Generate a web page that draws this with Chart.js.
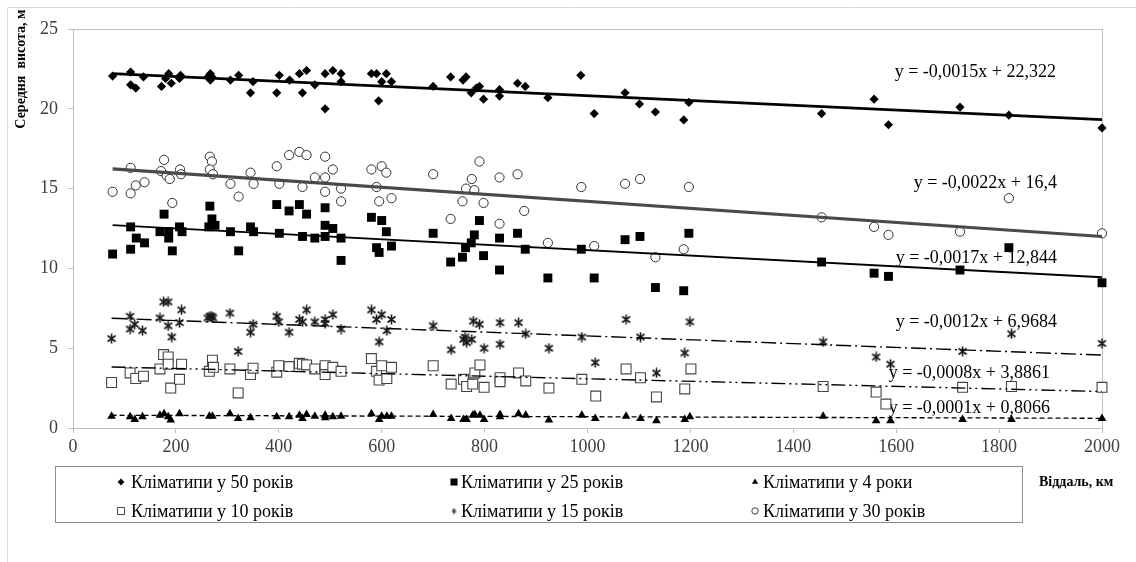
<!DOCTYPE html>
<html>
<head>
<meta charset="utf-8">
<script src="https://cdn.jsdelivr.net/npm/chart.js@4"></script>
<style>
  html, body { margin: 0; padding: 0; background: #fff; }
</style>
</head>
<body>
<canvas id="heightChart" width="1136" height="562"></canvas>
<script>
// distance (km) / mean height (m) pairs
var years50 = [[77,22.05],[112,22.3],[112,21.5],[122,21.3],[137,22.0],[172,21.4],[180,21.9],[186,22.2],[191,21.6],[207,21.9],
  [209,22.1],[262,22.0],[267,22.2],[267,21.8],[270,22.0],[306,21.8],[322,22.1],[345,21.0],[350,21.7],[396,21.0],
  [401,22.1],[421,21.8],[440,22.2],[446,21.0],[454,22.4],[470,21.5],[490,22.2],[490,20.0],[505,22.4],[521,22.2],
  [521,21.7],[580,22.2],[590,22.2],[594,20.5],[600,21.7],[609,22.2],[619,21.7],[700,21.4],[734,22.0],[758,21.8],
  [764,22.0],[774,21.0],[784,21.3],[790,21.4],[798,20.6],[829,21.2],[829,20.8],[864,21.6],[879,21.4],[923,20.7],
  [987,22.1],[1013,19.7],[1073,21.0],[1101,20.3],[1132,19.8],[1187,19.3],[1197,20.4],[1455,19.7],[1557,20.6],[1585,19.0],
  [1724,20.1],[1819,19.6],[2000,18.8]];

var years25 = [[77,10.9],[112,12.6],[112,11.2],[123,11.9],[139,11.6],[177,13.4],[169,12.3],[186,12.3],[186,11.9],[193,11.1],
  [207,12.6],[212,12.3],[266,13.9],[270,13.1],[264,12.6],[276,12.7],[306,12.3],[322,11.1],[345,12.6],[351,12.3],
  [396,14.0],[401,12.2],[420,13.6],[440,14.0],[454,13.4],[446,12.0],[470,11.9],[490,13.8],[490,12.7],[490,12.0],
  [505,12.5],[521,11.9],[521,10.5],[580,13.2],[600,13.0],[609,12.3],[590,11.3],[595,11.0],[619,11.4],[700,12.2],
  [734,10.4],[757,10.7],[763,11.3],[774,11.6],[780,12.1],[790,13.0],[798,10.8],[829,11.9],[829,9.9],[864,12.2],
  [879,11.2],[923,9.4],[988,11.2],[1013,9.4],[1073,11.8],[1102,12.0],[1132,8.8],[1187,8.6],[1197,12.2],[1455,10.4],
  [1557,9.7],[1585,9.5],[1724,9.9],[1819,11.3],[2000,9.1]];

var years4 = [[75,0.73],[111,0.7],[120,0.53],[135,0.7],[169,0.8],[177,0.9],[185,0.7],[190,0.5],[207,0.9],[265,0.73],
  [271,0.73],[305,0.9],[321,0.6],[345,0.65],[396,0.7],[420,0.7],[440,0.8],[446,0.6],[454,0.85],[470,0.73],
  [490,0.65],[490,0.8],[505,0.7],[521,0.73],[580,0.9],[595,0.53],[600,0.73],[610,0.73],[619,0.73],[700,0.85],
  [735,0.6],[759,0.53],[765,0.53],[777,0.8],[781,0.85],[791,0.8],[799,0.53],[830,0.7],[830,0.85],[866,0.9],
  [880,0.8],[925,0.5],[989,0.8],[1015,0.6],[1075,0.73],[1103,0.6],[1134,0.45],[1189,0.53],[1199,0.7],[1458,0.73],
  [1561,0.45],[1589,0.45],[1729,0.53],[1824,0.53],[2000,0.6]];

var years10 = [[75,2.85],[111,3.45],[122,3.1],[137,3.25],[169,3.7],[176,4.6],[185,4.45],[185,4.0],[190,2.5],[207,3.05],
  [211,4.0],[265,3.55],[271,4.25],[273,3.8],[305,3.7],[321,2.2],[345,3.35],[350,3.75],[396,3.5],[400,3.9],
  [420,3.85],[440,4.05],[446,4.0],[454,3.95],[470,3.7],[490,3.9],[490,3.35],[505,3.8],[521,3.55],[580,4.35],
  [590,3.55],[595,3.0],[600,3.9],[610,3.1],[619,3.8],[700,3.9],[735,2.75],[759,3.05],[765,2.6],[777,2.75],
  [781,3.45],[791,3.95],[799,2.55],[830,3.15],[830,2.9],[866,3.45],[880,2.95],[925,2.5],[989,3.05],[1016,2.0],
  [1075,3.7],[1103,3.15],[1134,1.95],[1189,2.45],[1201,3.7],[1458,2.6],[1561,2.25],[1580,1.5],[1729,2.55],[1824,2.6],
  [2000,2.55]];

var years15 = [[75,5.6],[111,7.0],[111,6.2],[120,6.5],[135,6.1],[169,6.9],[176,7.9],[185,7.9],[185,6.4],[192,5.7],
  [207,6.6],[211,7.4],[262,6.9],[266,7.0],[270,7.0],[272,6.9],[305,7.2],[321,4.8],[345,6.0],[350,6.5],
  [396,7.0],[400,6.65],[420,6.0],[440,6.8],[446,6.65],[454,7.4],[470,6.65],[490,6.8],[490,6.55],[505,7.1],
  [521,6.2],[580,7.4],[590,6.8],[595,5.4],[600,7.1],[610,6.1],[619,6.8],[700,6.4],[735,4.9],[759,5.55],
  [762,5.7],[765,5.35],[775,5.55],[778,6.7],[790,6.5],[799,5.0],[830,6.6],[830,5.25],[866,6.6],[880,5.9],
  [925,5.0],[989,5.7],[1015,4.1],[1075,6.8],[1103,5.7],[1134,3.45],[1189,4.7],[1199,6.65],[1458,5.4],[1561,4.45],
  [1589,4.0],[1729,4.8],[1824,5.9],[2000,5.3]];

var years30 = [[77,14.8],[112,16.3],[112,14.7],[122,15.2],[139,15.4],[171,16.1],[177,16.8],[182,15.8],[188,15.6],[193,14.1],
  [208,16.2],[210,15.9],[266,17.0],[270,16.7],[266,16.2],[272,15.9],[306,15.3],[322,14.5],[345,16.0],[351,15.3],
  [396,16.4],[401,15.3],[420,17.1],[440,17.3],[446,15.1],[454,17.1],[470,15.7],[490,17.0],[490,15.7],[490,14.8],
  [505,16.2],[521,15.0],[521,14.2],[580,16.2],[590,15.1],[595,14.2],[600,16.4],[609,16.0],[619,14.4],[700,15.9],
  [734,13.1],[757,14.2],[764,15.0],[775,15.6],[780,14.9],[790,16.7],[798,14.1],[829,15.7],[829,12.8],[864,15.9],
  [877,13.6],[923,11.6],[988,15.1],[1013,11.4],[1073,15.3],[1102,15.6],[1132,10.7],[1187,11.2],[1197,15.1],[1455,13.2],
  [1557,12.6],[1585,12.1],[1724,12.3],[1819,14.4],[2000,12.2]];

// legend order: 50, 25, 4 / 10, 15, 30
var seriesNames = ['Кліматипи у 50 років', 'Кліматипи у 25 років', 'Кліматипи у 4 роки',
                   'Кліматипи у 10 років', 'Кліматипи у 15 років', 'Кліматипи у 30 років'];
var seriesData = [years50, years25, years4, years10, years15, years30];
var trendSlopes = [-0.0015, -0.0017, -0.0001, -0.0008, -0.0012, -0.0022];
var trendIntercepts = [22.322, 12.844, 0.8066, 3.8861, 6.9684, 16.4];
var xTitle = 'Віддаль, км';
var yTitle = 'Середня  висота, м';

var serif = '"Liberation Serif", "Times New Roman", serif';

// "x with a bar" marker like Excel's star
function starMarker(size, color, lw) {
  var c = document.createElement('canvas');
  c.width = size; c.height = size;
  var g = c.getContext('2d');
  var m = 1.5, e = size - 1.5;
  g.strokeStyle = color;
  g.lineWidth = lw;
  g.beginPath();
  g.moveTo(m, m + 1); g.lineTo(e, e - 1);
  g.moveTo(e, m + 1); g.lineTo(m, e - 1);
  g.moveTo(size / 2, 0.5); g.lineTo(size / 2, size - 0.5);
  g.stroke();
  return c;
}

var markers = [
  { pointStyle: 'rectRot', radius: 4.6, bg: '#000', border: '#000', bw: 0 },
  { pointStyle: 'rect', radius: 6.3, bg: '#000', border: '#000', bw: 0 },
  { pointStyle: 'triangle', radius: 5, bg: '#000', border: '#000', bw: 0 },
  { pointStyle: 'rect', radius: 7, bg: '#fff', border: '#444', bw: 1.1 },
  { pointStyle: starMarker(11, '#1a1a1a', 1.6), radius: 5, bg: '#222', border: '#222', bw: 0 },
  { pointStyle: 'circle', radius: 4.6, bg: '#fff', border: '#333', bw: 1 }
];
var legendMarkers = [
  { pointStyle: 'rectRot', radius: 3.4 },
  { pointStyle: 'rect', radius: 5, fill: '#000' },
  { pointStyle: 'triangle', radius: 3.6 },
  { pointStyle: 'rect', radius: 5, open: true },
  { pointStyle: starMarker(7, '#333', 1.2), radius: 3.5 },
  { pointStyle: 'circle', radius: 3.2, open: true }
];

var trendStyles = [
  { color: '#000', width: 2.6, dash: [] },
  { color: '#000', width: 1.8, dash: [] },
  { color: '#000', width: 1.3, dash: [5, 3] },
  { color: '#000', width: 1.4, dash: [14, 4, 2, 4, 2, 4] },
  { color: '#000', width: 1.4, dash: [15, 4, 2, 4] },
  { color: '#4a4a4a', width: 3.2, dash: [] }
];

// where the equation labels sit (right edge / middle, px)
var eqRight = [1056, 1057, 1050, 1050, 1057, 1057];
var eqMiddle = [72, 258, 408, 373, 322, 183];

function fmt(v) { return String(v).replace('.', ','); }

var datasets = [];
seriesData.forEach(function (pts, i) {
  var mk = markers[i];
  datasets.push({
    type: 'scatter',
    label: seriesNames[i],
    data: pts.map(function (p) { return { x: p[0], y: p[1] }; }),
    pointStyle: mk.pointStyle,
    pointRadius: mk.radius,
    pointHoverRadius: mk.radius,
    pointBackgroundColor: mk.bg,
    pointBorderColor: mk.border,
    pointBorderWidth: mk.bw,
    clip: false,
    order: 2
  });
});
seriesData.forEach(function (pts, i) {
  var x0 = Math.min.apply(null, pts.map(function (p) { return p[0]; }));
  var st = trendStyles[i];
  datasets.push({
    type: 'line',
    label: 'trend ' + seriesNames[i],
    data: [x0, 2000].map(function (x) { return { x: x, y: trendSlopes[i] * x + trendIntercepts[i] }; }),
    borderColor: st.color,
    borderWidth: st.width,
    borderDash: st.dash,
    pointRadius: 0,
    fill: false,
    tension: 0,
    order: 1
  });
});

var decorPlugin = {
  id: 'decor',
  beforeDraw: function (chart) {
    var ctx = chart.ctx;
    ctx.save();
    ctx.fillStyle = '#fff';
    ctx.fillRect(0, 0, chart.width, chart.height);
    ctx.strokeStyle = '#d9d9d9';
    ctx.lineWidth = 1;
    ctx.beginPath();
    ctx.moveTo(7.5, chart.height); ctx.lineTo(7.5, 7.5); ctx.lineTo(chart.width, 7.5);
    ctx.stroke();
    ctx.restore();
  },
  beforeDatasetsDraw: function (chart) {
    var ctx = chart.ctx, a = chart.chartArea;
    ctx.save();
    ctx.strokeStyle = '#c0c0c0';
    ctx.lineWidth = 1;
    ctx.strokeRect(Math.round(a.left) + 0.5, Math.round(a.top) + 0.5,
                   Math.round(a.right - a.left), Math.round(a.bottom - a.top));
    ctx.fillStyle = '#000';
    ctx.font = '18px ' + serif;
    ctx.textAlign = 'right';
    ctx.textBaseline = 'middle';
    for (var i = 0; i < trendSlopes.length; i++) {
      var txt = 'y = ' + fmt(trendSlopes[i]) + 'x + ' + fmt(trendIntercepts[i]);
      ctx.fillText(txt, eqRight[i], eqMiddle[i]);
    }
    ctx.restore();
  },
  afterDraw: function (chart) {
    var ctx = chart.ctx;
    ctx.save();
    // axis titles
    ctx.fillStyle = '#000';
    ctx.font = 'bold 14px ' + serif;
    ctx.textBaseline = 'middle';
    ctx.textAlign = 'left';
    ctx.fillText(xTitle, 1039, 482);
    ctx.translate(21, 69);
    ctx.rotate(-Math.PI / 2);
    ctx.textAlign = 'center';
    ctx.fillText(yTitle, 0, 0);
    ctx.restore();

    // legend box
    ctx.save();
    ctx.strokeStyle = '#8c8c8c';
    ctx.lineWidth = 1;
    ctx.strokeRect(55.5, 466.5, 967, 56);
    var colMark = [121, 454, 755], colText = [131, 461, 763], rowY = [482, 511];
    ctx.font = '18px ' + serif;
    ctx.textBaseline = 'middle';
    ctx.textAlign = 'left';
    for (var i = 0; i < seriesNames.length; i++) {
      var col = i % 3, row = Math.floor(i / 3);
      var lm = legendMarkers[i];
      ctx.fillStyle = lm.open ? '#fff' : '#000';
      ctx.strokeStyle = '#444';
      ctx.lineWidth = 1;
      Chart.helpers.drawPoint(ctx, { pointStyle: lm.pointStyle, radius: lm.radius, borderWidth: lm.open ? 1 : 0, rotation: 0 },
        colMark[col], rowY[row]);
      ctx.fillStyle = '#000';
      ctx.fillText(seriesNames[i], colText[col], rowY[row] + 1);
    }
    ctx.restore();
  }
};

new Chart(document.getElementById('heightChart'), {
  data: { datasets: datasets },
  options: {
    responsive: false,
    animation: false,
    events: [],
    layout: { padding: { top: 29, right: 34, left: 0, bottom: 0 } },
    plugins: { legend: { display: false }, tooltip: { enabled: false } },
    scales: {
      x: {
        type: 'linear', min: 0, max: 2000,
        ticks: { stepSize: 200, color: '#404040', font: { family: serif, size: 18 }, padding: 3, maxRotation: 0,
                 callback: function (v) { return String(v); } },
        grid: { display: true, drawOnChartArea: false, drawTicks: true, tickLength: 5, color: '#c0c0c0' },
        border: { display: true, color: '#c0c0c0' },
        afterFit: function (s) { s.height = 134; }
      },
      y: {
        type: 'linear', min: 0, max: 25,
        ticks: { stepSize: 5, color: '#404040', font: { family: serif, size: 18 }, padding: 10 },
        grid: { display: true, drawOnChartArea: false, drawTicks: true, tickLength: 5, color: '#c0c0c0' },
        border: { display: true, color: '#c0c0c0' },
        afterFit: function (s) { s.width = 73; }
      }
    }
  },
  plugins: [decorPlugin]
});
</script>
</body>
</html>
